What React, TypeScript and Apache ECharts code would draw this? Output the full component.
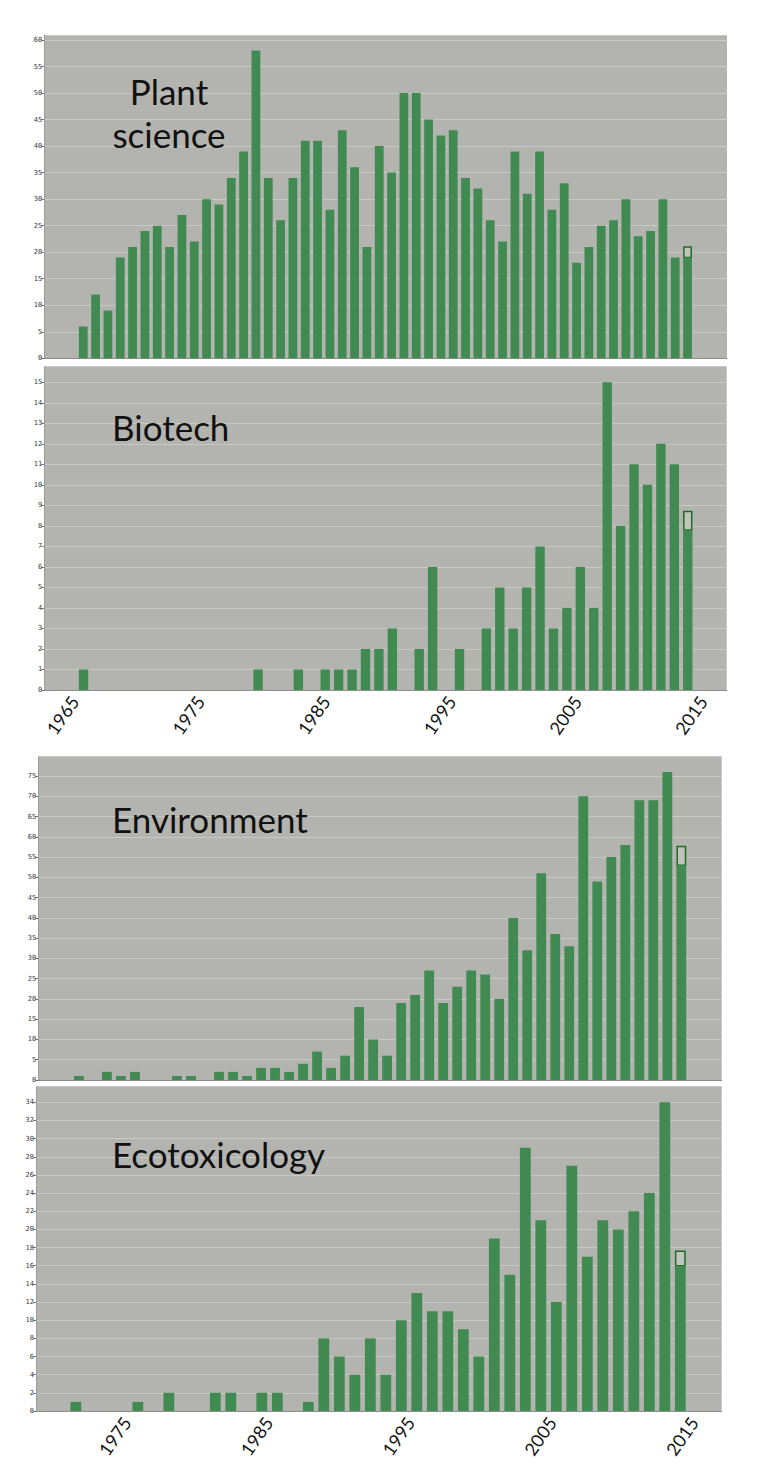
import React, { useEffect, useRef } from "react";
import * as echarts from "echarts";

// ---------- data ----------
const plantYears = [1966,1967,1968,1969,1970,1971,1972,1973,1974,1975,1976,1977,1978,1979,1980,1981,1982,1983,1984,1985,1986,1987,1988,1989,1990,1991,1992,1993,1994,1995,1996,1997,1998,1999,2000,2001,2002,2003,2004,2005,2006,2007,2008,2009,2010,2011,2012,2013,2014,2015];
const plantValues = [6,12,9,19,21,24,25,21,27,22,30,29,34,39,58,34,26,34,41,41,28,43,36,21,40,35,50,50,45,42,43,34,32,26,22,39,31,39,28,33,18,21,25,26,30,23,24,30,19,19];
const plantProjected = 2;

const biotechYears = [1970,1971,1972,1973,1974,1975,1976,1977,1978,1979,1980,1981,1982,1983,1984,1985,1986,1987,1988,1989,1990,1991,1992,1993,1994,1995,1996,1997,1998,1999,2000,2001,2002,2003,2004,2005,2006,2007,2008,2009,2010,2011,2012,2013,2014,2015];
const biotechValues = [1,0,0,0,0,0,0,0,0,0,0,0,0,1,0,0,1,0,1,1,1,2,2,3,0,2,6,0,2,0,3,5,3,5,7,3,4,6,4,15,8,11,10,12,11,7.8];
const biotechProjected = 0.9;

const envYears = [1972,1973,1974,1975,1976,1977,1978,1979,1980,1981,1982,1983,1984,1985,1986,1987,1988,1989,1990,1991,1992,1993,1994,1995,1996,1997,1998,1999,2000,2001,2002,2003,2004,2005,2006,2007,2008,2009,2010,2011,2012,2013,2014,2015];
const envValues = [1,0,2,1,2,0,0,1,1,0,2,2,1,3,3,2,4,7,3,6,18,10,6,19,21,27,19,23,27,26,20,40,32,51,36,33,70,49,55,58,69,69,76,53];
const envProjected = 4.6;

const ecoYears = [1976,1977,1978,1979,1980,1981,1982,1983,1984,1985,1986,1987,1988,1989,1990,1991,1992,1993,1994,1995,1996,1997,1998,1999,2000,2001,2002,2003,2004,2005,2006,2007,2008,2009,2010,2011,2012,2013,2014,2015];
const ecoValues = [1,0,0,0,1,0,2,0,0,2,2,0,2,2,0,1,8,6,4,8,4,10,13,11,11,9,6,19,15,29,21,12,27,17,21,20,22,24,34,16];
const ecoProjected = 1.6;

const biotechTickYears = [1965, 1975, 1985, 1995, 2005, 2015];
const ecoTickYears = [1975, 1985, 1995, 2005, 2015];

const titles = ["Plant", "science", "Biotech", "Environment", "Ecotoxicology"];

// ---------- styles ----------
const GREEN = "#418b53";
const PLOT_BG = "#b3b4b0";
const GRID_LINE = "#c8c9c5";
const BOX_FILL = "#c0c4bc";
const BOX_BORDER = "#1d6b26";

const panels = [
  { years: plantYears, values: plantValues, projected: plantProjected, left: 44.3, top: 35, width: 682.7, height: 323.3, yMax: 60.94, yInt: 5, xMin: 1962.84, xMax: 2018.2, barWidth: 8.8, ticks: null as number[] | null, tMin: 0, tMax: 0 },
  { years: biotechYears, values: biotechValues, projected: biotechProjected, left: 44.3, top: 366.7, width: 682.4, height: 323.3, yMax: 15.76, yInt: 1, xMin: 1967.08, xMax: 2017.9, barWidth: 9.4, ticks: biotechTickYears, tMin: 1962.6, tMax: 2016.89 },
  { years: envYears, values: envValues, projected: envProjected, left: 38.3, top: 756.7, width: 683.4, height: 323.3, yMax: 79.77, yInt: 5, xMin: 1969.1, xMax: 2017.88, barWidth: 9.8, ticks: null, tMin: 0, tMax: 0 },
  { years: ecoYears, values: ecoValues, projected: ecoProjected, left: 36, top: 1086.7, width: 685.7, height: 324.3, yMax: 35.72, yInt: 2, xMin: 1973.43, xMax: 2017.67, barWidth: 10.8, ticks: ecoTickYears, tMin: 1968.6, tMax: 2016.96 },
];

function buildOption() {
  const grid: any[] = [];
  const xAxis: any[] = [];
  const yAxis: any[] = [];
  const series: any[] = [];

  panels.forEach((p, i) => {
    grid.push({
      left: p.left, top: p.top, width: p.width, height: p.height,
      show: true, backgroundColor: PLOT_BG, borderWidth: 0, containLabel: false,
    });
    const barAxisIndex = xAxis.length;
    xAxis.push({
      type: "value", gridIndex: i, min: p.xMin, max: p.xMax, position: "bottom",
      axisLine: { show: true, lineStyle: { color: "#8e8f8b", width: 1 } },
      axisTick: { show: false }, axisLabel: { show: false }, splitLine: { show: false },
    });
    if (p.ticks) {
      xAxis.push({
        type: "value", gridIndex: i, min: p.tMin, max: p.tMax, position: "bottom",
        axisLine: { show: false }, axisTick: { show: false }, splitLine: { show: false },
        axisLabel: {
          show: true, customValues: p.ticks, rotate: 55, margin: 8,
          fontSize: 18, fontFamily: "Lato", color: "#151515",
          formatter: (v: number) => String(Math.round(v)),
        },
      });
    }
    yAxis.push({
      type: "value", gridIndex: i, min: 0, max: p.yMax, interval: p.yInt,
      axisLine: { show: true, lineStyle: { color: "#9c9d99", width: 1 } },
      axisTick: { show: true, length: 3, lineStyle: { color: "#777" } },
      axisLabel: {
        fontSize: 7, fontFamily: "DejaVu Sans Mono", color: "#3a3a3a", margin: 2,
        showMaxLabel: false,
        formatter: (v: number) => (Math.abs(v / p.yInt - Math.round(v / p.yInt)) < 1e-6 ? String(v) : ""),
      },
      splitLine: { show: true, lineStyle: { color: GRID_LINE, width: 1 } },
    });
    const last = p.years.length - 1;
    series.push({
      type: "bar", xAxisIndex: barAxisIndex, yAxisIndex: i,
      barWidth: p.barWidth, itemStyle: { color: GREEN },
      data: p.years.map((y, k) => [y, p.values[k]]),
    });
    const bw = p.barWidth;
    series.push({
      type: "custom", xAxisIndex: barAxisIndex, yAxisIndex: i,
      encode: { x: 0, y: [1, 2] },
      data: [[p.years[last], p.values[last], p.values[last] + p.projected]],
      renderItem: (params: any, api: any) => {
        const x = api.value(0);
        const top = api.coord([x, api.value(2)]);
        const bot = api.coord([x, api.value(1)]);
        return {
          type: "rect",
          shape: { x: top[0] - bw / 2 + 0.75, y: top[1], width: bw - 1.5, height: bot[1] - top[1] },
          style: { fill: BOX_FILL, stroke: BOX_BORDER, lineWidth: 1.5 },
        };
      },
    });
  });

  const titleFont = "35px Lato";
  const mk = (text: string, x: number, y: number, align: string) => ({
    type: "text", x, y, z: 100,
    style: { text, font: titleFont, fill: "#111", textAlign: align, textVerticalAlign: "middle" },
  });
  const graphic = [
    mk(titles[0], 169, 91.3, "center"),
    mk(titles[1], 169, 134, "center"),
    mk(titles[2], 112, 427, "left"),
    mk(titles[3], 112, 818.7, "left"),
    mk(titles[4], 112, 1153.7, "left"),
  ];

  return {
    animation: false,
    backgroundColor: "#ffffff",
    grid, xAxis, yAxis, series, graphic,
  };
}

export default function App() {
  const ref = useRef<HTMLDivElement>(null);
  useEffect(() => {
    if (!ref.current) return;
    const chart = echarts.init(ref.current, undefined, { renderer: "svg" });
    chart.setOption(buildOption() as any);
    return () => chart.dispose();
  }, []);
  return (
    <div
      ref={ref}
      style={{ position: "absolute", left: 0, top: 0, width: 781, height: 1480 }}
    />
  );
}
